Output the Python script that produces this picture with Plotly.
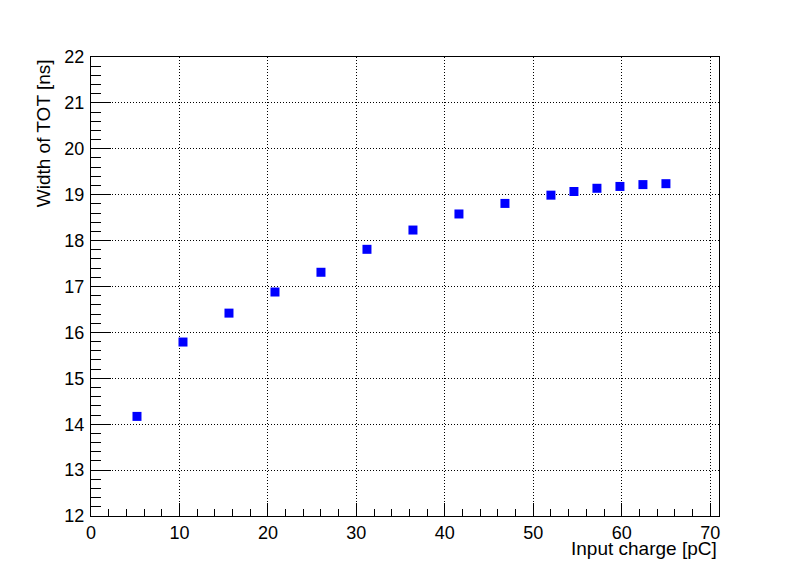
import plotly.graph_objects as go

# Input charge [pC] and measured TOT width [ns]
charge = [5.2, 10.4, 15.6, 20.8, 26.0, 31.2, 36.4, 41.6, 46.8, 52.0, 54.6, 57.2, 59.8, 62.4, 65.0]
tot_width = [14.17, 15.79, 16.42, 16.88, 17.31, 17.81, 18.23, 18.58, 18.81, 18.99, 19.07, 19.14, 19.18, 19.22, 19.24]

x_range = [0, 71]
y_range = [12, 22]
x_title = 'Input charge [pC]'
y_title = 'Width of TOT [ns]'

tick_font = dict(family='Liberation Sans, Arial, sans-serif', size=18, color='black')
title_font = dict(family='Liberation Sans, Arial, sans-serif', size=19, color='black')

fig = go.Figure()

fig.add_trace(go.Scatter(
    x=charge,
    y=tot_width,
    mode='markers',
    marker=dict(symbol='square', size=9, color='#0000ff', line=dict(width=0)),
    showlegend=False
))

axis_common = dict(
    showline=True,
    mirror=True,
    linecolor='black',
    linewidth=1,
    showgrid=True,
    gridcolor='black',
    gridwidth=1,
    griddash='1px,2px',
    zeroline=False,
    ticks='inside',
    tickcolor='black',
    tickfont=tick_font,
    automargin=False,
)

fig.update_xaxes(
    range=x_range,
    dtick=10,
    ticklen=13,
    minor=dict(ticks='inside', dtick=2, ticklen=7, tickcolor='black', showgrid=False),
    ticklabelstandoff=0,
    **axis_common
)
fig.update_yaxes(
    range=y_range,
    dtick=1,
    ticklen=20,
    minor=dict(ticks='inside', dtick=0.2, ticklen=10, tickcolor='black', showgrid=False),
    ticklabelstandoff=2,
    **axis_common
)

# ROOT-style axis titles: right / top aligned
fig.add_annotation(
    text=x_title, xref='paper', yref='paper', x=1.0, y=-0.07,
    xanchor='right', yanchor='middle', showarrow=False, font=title_font
)
fig.add_annotation(
    text=y_title, xref='paper', yref='paper', x=-0.076, y=1.0,
    xanchor='center', yanchor='top', textangle=-90, showarrow=False, font=title_font
)

# the page body adds an 8px offset, so the figure is sized to fit the window
fig.update_layout(
    width=790,
    height=566,
    margin=dict(l=83, r=79, t=49, b=58, autoexpand=False),
    paper_bgcolor='white',
    plot_bgcolor='white',
    font=tick_font,
)

fig.write_html("out.html")
